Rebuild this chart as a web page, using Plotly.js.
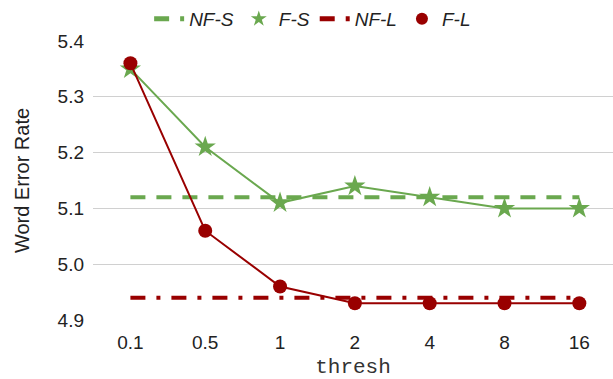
<!DOCTYPE html>
<html>
<head>
<meta charset="utf-8">
<script src="https://cdn.plot.ly/plotly-3.0.1.min.js"></script>
<style>html,body{margin:0;padding:0;background:#fff;}#chart{width:613px;height:379px;}</style>
</head>
<body>
<div id="chart"></div>
<script>
const categories = ["0.1", "0.5", "1", "2", "4", "8", "16"];
const nfS = [5.12, 5.12, 5.12, 5.12, 5.12, 5.12, 5.12];
const fS = [5.35, 5.21, 5.11, 5.14, 5.12, 5.10, 5.10];
const nfL = [4.94, 4.94, 4.94, 4.94, 4.94, 4.94, 4.94];
const fL = [5.36, 5.06, 4.96, 4.93, 4.93, 4.93, 4.93];
const yTicks = [4.9, 5.0, 5.1, 5.2, 5.3, 5.4];
const yTickText = ["4.9", "5.0", "5.1", "5.2", "5.3", "5.4"];

const green = "#6aa84f";
const red = "#990000";

const traces = [
  {x: categories, y: nfS, name: "NF-S", mode: "lines", line: {color: green, width: 4, dash: "15px,11px"}},
  {x: categories, y: fS, name: "F-S", mode: "lines", showlegend: false, line: {color: green, width: 2}},
  {x: categories, y: fS, name: "F-S", mode: "markers", marker: {symbol: "star", size: 16, color: green}},
  {x: categories, y: nfL, name: "NF-L", mode: "lines", line: {color: red, width: 4, dash: "15px,11px,4px,11px"}},
  {x: categories, y: fL, name: "F-L", mode: "lines", showlegend: false, line: {color: red, width: 2}},
  {x: categories, y: fL, name: "F-L", mode: "markers", marker: {symbol: "circle", size: 14, color: red}}
];

const layout = {
  width: 613, height: 379,
  margin: {l: 93, r: 0, t: 41, b: 59},
  paper_bgcolor: "#fff", plot_bgcolor: "#fff",
  font: {family: "Liberation Sans, Arial, sans-serif", size: 19, color: "#222"},
  showlegend: true,
  legend: {orientation: "h", x: 0.51, xref: "container", xanchor: "center", y: 1, yref: "container", yanchor: "top",
           font: {size: 19, style: "italic", color: "#222"}, itemsizing: "constant"},
  xaxis: {type: "category", range: [-0.5, 6.45], showgrid: false, zeroline: false, showline: false, ticks: "",
          tickfont: {size: 19}, ticklabelstandoff: 9,
          title: {text: "thresh", font: {family: "Liberation Mono, Courier New, monospace", size: 21, color: "#333"}, standoff: 17}},
  yaxis: {range: [4.9, 5.4], tickvals: yTicks, ticktext: yTickText, showgrid: true, gridcolor: "#d0d0d0", gridwidth: 1,
          zeroline: false, showline: false, ticks: "", tickfont: {size: 19}, ticklabelstandoff: 8,
          title: {text: "Word Error Rate", font: {size: 20, color: "#222"}, standoff: 22}}
};

Plotly.newPlot("chart", traces, layout, {displayModeBar: false, staticPlot: true});
</script>
</body>
</html>
